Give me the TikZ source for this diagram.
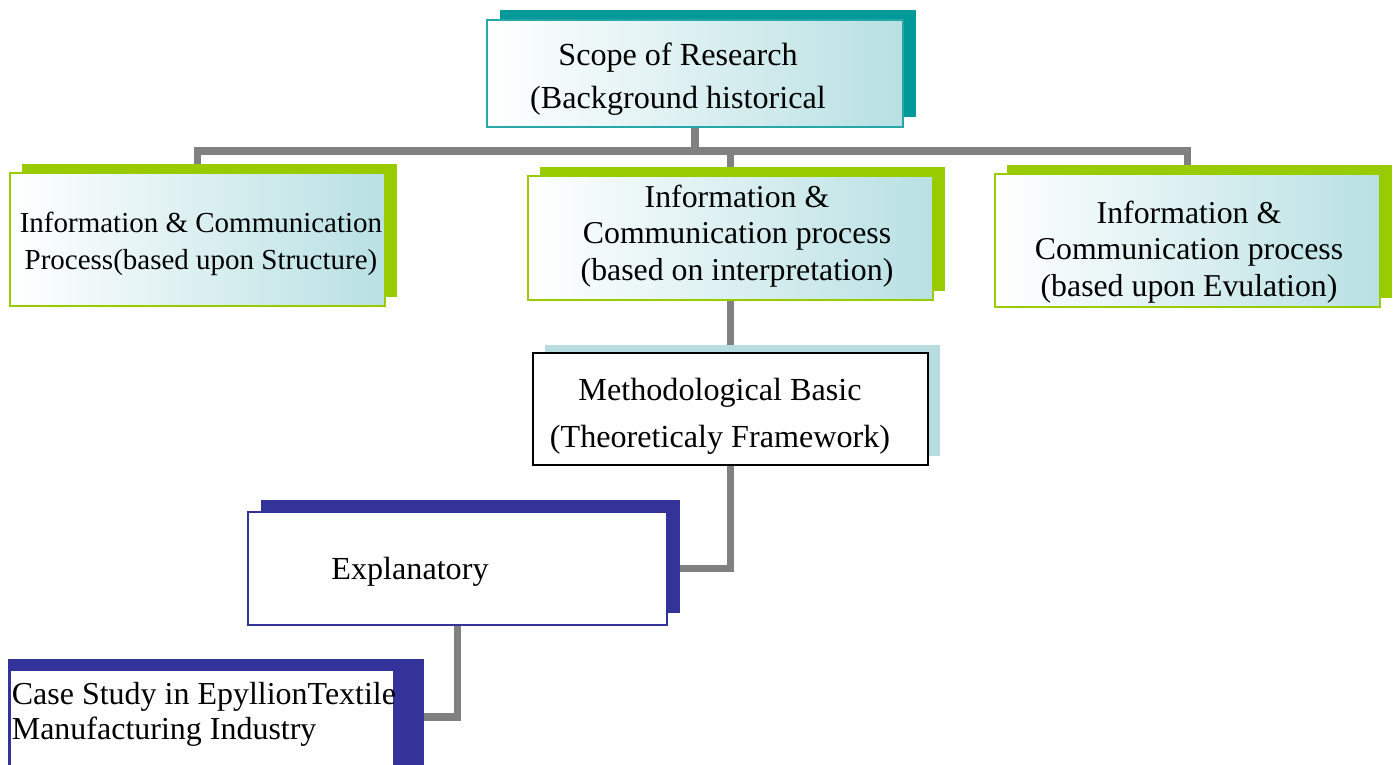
\documentclass[tikz,border=0pt]{standalone}
\usepackage{fontspec}
\setmainfont{Liberation Serif}
\usetikzlibrary{shadows,backgrounds}
\definecolor{scopeteal}{RGB}{0,153,153}
\definecolor{processgreen}{RGB}{153,204,0}
\definecolor{methodblue}{RGB}{183,221,224}
\definecolor{caseblue}{RGB}{51,51,153}
\definecolor{fadeteal}{RGB}{184,224,227}
\definecolor{linkgray}{RGB}{128,128,128}

\begin{document}
\begin{tikzpicture}[x=0.02cm, y=-0.02cm,
    box/.style={rectangle, inner sep=0pt},
    scopebox/.style={box, draw=scopeteal!85, line width=1.1pt, left color=white, right color=fadeteal, general shadow={fill=scopeteal, shadow xshift=0.26cm, shadow yshift=0.2cm}, minimum width=8.32cm, minimum height=2.14cm},
    processbox/.style={box, draw=processgreen, line width=1.4pt, left color=white, right color=fadeteal, general shadow={fill=processgreen, shadow xshift=0.24cm, shadow yshift=0.18cm}},
    methodbox/.style={box, draw=black, line width=1.6pt, fill=white, general shadow={fill=methodblue, shadow xshift=0.24cm, shadow yshift=0.17cm}, minimum width=7.9cm, minimum height=2.24cm},
    explanbox/.style={box, draw=caseblue, line width=1.1pt, fill=white, general shadow={fill=caseblue, shadow xshift=0.26cm, shadow yshift=0.24cm}, minimum width=8.38cm, minimum height=2.26cm},
    casebox/.style={box, draw=caseblue, line width=1.1pt, fill=white, minimum width=7.68cm, minimum height=1.96cm},
    smalltext/.style={align=center, inner sep=2pt, font=\fontsize{16.5}{21}\selectfont},
    midtext/.style={align=center, inner sep=2pt, font=\fontsize{18.1}{20.9}\selectfont},
    bigtext/.style={align=center, inner sep=2pt, font=\fontsize{18.3}{24.4}\selectfont},
    link/.style={draw=linkgray, line width=4.5pt}
]
\useasboundingbox (0,0) rectangle (1395,764);

% Top
\node[scopebox] (scope) at (695,73.5) {};
\node[bigtext] (scopetext) at (678,79) {Scope of Research\\(Background historical};

% Processes
\node[processbox, minimum width=7.5cm, minimum height=2.66cm] (icstruct) at (197.5,239.5) {};
\node[processbox, minimum width=8.1cm, minimum height=2.48cm] (icinterp) at (730.5,238) {};
\node[processbox, minimum width=7.7cm, minimum height=2.66cm] (icevul) at (1187.5,240.5) {};
\node[smalltext] (icstructtext) at (201,244) {Information \& Communication\\Process(based upon Structure)};
\node[midtext] (icinterptext) at (737,236) {Information \&\\Communication process\\(based on interpretation)};
\node[midtext] (icevultext) at (1189,252) {Information \&\\Communication process\\(based upon Evulation)};

% Method
\node[methodbox] (method) at (730.5,409) {};
\node[bigtext, font=\fontsize{18.3}{26.6}\selectfont] (methodtext) at (720,416) {Methodological Basic\\(Theoreticaly Framework)};
\node[explanbox] (explan) at (457.5,568.5) {};
\node[bigtext] (explantext) at (410,572) {Explanatory};

% Case study
\fill[caseblue] (8,659) rectangle (424,770);
\node[casebox] (casestudy) at (202,719) {};
\node[bigtext, align=left, anchor=west, font=\fontsize{18.2}{19.8}\selectfont] (casetext) at (8,714) {Case Study in EpyllionTextile\\Manufacturing Industry};
\coordinate (caseend) at (424,717);
\coordinate (bus) at (0,151);

% Connections
\begin{scope}[on background layer]
\draw[link] (scope) -- (scope |- bus);
\draw[link] (icstruct) -- (icstruct |- bus) -- (icevul |- bus) -- (icevul);
\draw[link] (icinterp |- bus) -- (method);
\draw[link] (method) |- (explan);
\draw[link] (explan) |- (caseend);
\end{scope}

\end{tikzpicture}
\end{document}
